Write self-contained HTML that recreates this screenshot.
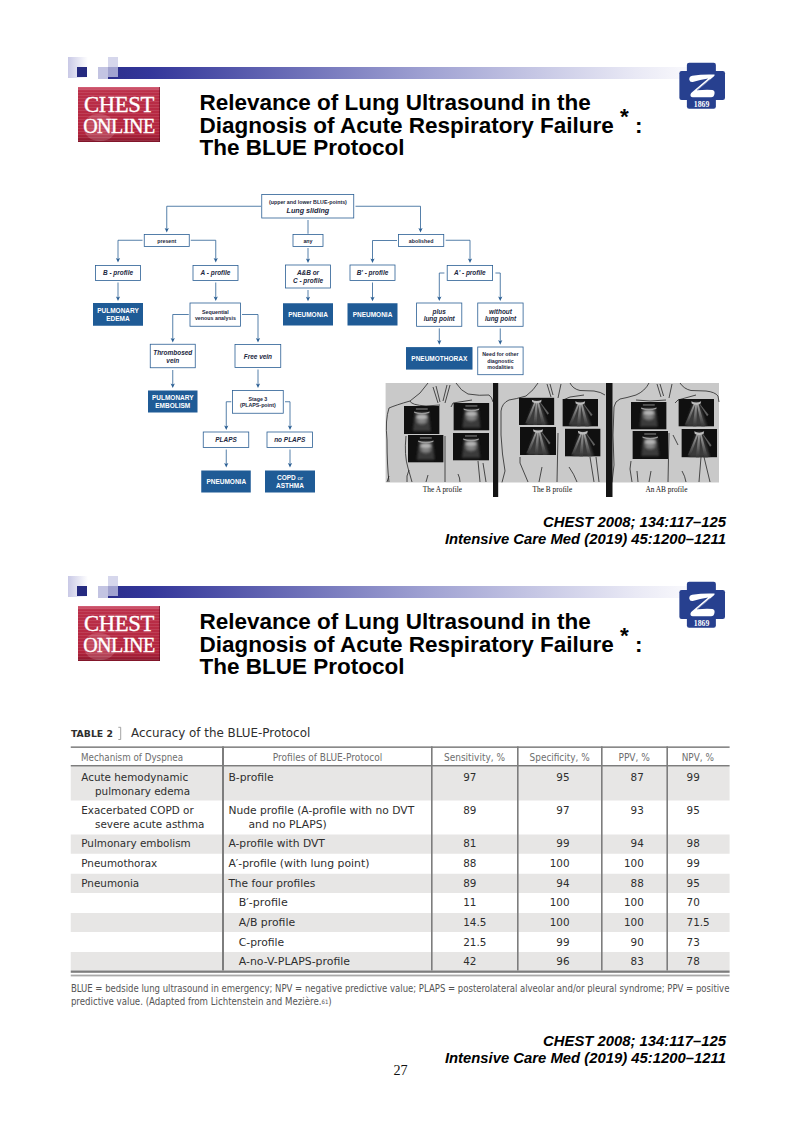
<!DOCTYPE html>
<html><head><meta charset="utf-8"><title>BLUE Protocol</title>
<style>
html,body{margin:0;padding:0;background:#fff;}
body{width:800px;height:1131px;position:relative;overflow:hidden;font-family:"Liberation Sans",sans-serif;color:#000;}
.slide{position:absolute;left:0;width:800px;height:519px;}
#s1{top:0}
#s2{top:519px}
.abs{position:absolute}
.title{position:absolute;left:199.5px;top:92px;font:bold 22.5px/22.5px "Liberation Sans",sans-serif;white-space:nowrap;color:#000;letter-spacing:0}
.title sup{font-size:22.5px;vertical-align:0;position:relative;top:-8.2px;line-height:0}
.cite{position:absolute;right:74px;top:514px;text-align:right;font:italic bold 14.85px/17.25px "Liberation Sans",sans-serif;white-space:nowrap}
/* deco */
.d{position:absolute}
.chest{position:absolute;left:78px;top:87px;width:82px;height:55px;background:linear-gradient(180deg,#d4637a 0,#bb2f49 4px,#b3243d 46px,#9a1c33 52px,#7d1428 55px);overflow:hidden}
.chest:before{content:"";position:absolute;left:0;top:0;right:0;bottom:0;background:repeating-linear-gradient(180deg,rgba(255,255,255,0) 0,rgba(255,255,255,0) 2.2px,rgba(255,255,255,.10) 2.2px,rgba(255,255,255,.10) 3px)}
.chest:after{content:"";position:absolute;right:0;top:0;width:1.5px;bottom:0;background:rgba(90,10,30,.55)}
.chest i{position:absolute;left:6px;top:27px;width:32px;height:27px;border-radius:45% 55% 50% 50%;background:rgba(255,255,255,.16)}
.chest span{position:absolute;left:0;width:82px;text-align:center;color:#fff;font-family:"Liberation Serif",serif;white-space:nowrap;-webkit-text-stroke:0.35px #fff}
.pg{position:absolute;left:0.5px;width:800px;top:1060px;text-align:center;font:14.2px/20px "Liberation Serif",serif;color:#111}
</style></head><body>

<div class="slide" id="s1">
  <div class="d" style="left:68px;top:57px;width:20px;height:21px;background:linear-gradient(90deg,#c9c9e6,#fff)"></div>
  <div class="d" style="left:107.5px;top:67px;width:600px;height:11.5px;background:linear-gradient(90deg,#2c2f8c 0%,#33369a 7%,#9fa1d2 53%,#e9e9f5 88%,#fff 100%)"></div>
  <div class="d" style="left:77px;top:67px;width:10px;height:9.5px;background:#252a80"></div>
  <div class="d" style="left:97.5px;top:67px;width:10px;height:11.5px;background:#c3c4e2"></div>
  <div class="d" style="left:108px;top:57px;width:9.5px;height:20px;background:rgba(200,201,230,.75)"></div>
  <div class="chest"><i></i><span style="top:5.6px;font-size:22.6px;line-height:24px;letter-spacing:-0.3px">CHEST</span><span style="top:26.6px;font-size:20px;line-height:24px;letter-spacing:-0.45px">ONLINE</span></div>
  <svg class="abs" style="left:660px;top:50px" width="100" height="70" viewBox="0 0 800 560"><rect x="215" y="102" width="232" height="368" rx="18" fill="#27408f"/><rect x="155" y="168" width="365" height="232" rx="18" fill="#27408f"/><path d="M234,236 Q232,212 258,206 Q340,192 436,196 Q440,200 432,210 L300,322 Q370,316 420,320 Q440,324 436,350 Q432,380 405,378 L262,378 Q240,376 244,356 Q246,346 256,338 L385,228 Q320,238 262,256 Q238,260 234,236 Z" fill="#fff"/><path d="M398,236 L296,322" stroke="#27408f" stroke-width="4.5"/><text x="332" y="454" text-anchor="middle" font-family="Liberation Serif,serif" font-weight="bold" font-size="62" fill="#fff">1869</text></svg>
  <div class="title">Relevance of Lung Ultrasound in the<br>Diagnosis of Acute Respiratory Failure <sup>*</sup> :<br>The BLUE Protocol</div>
  <div class="cite">CHEST 2008; 134:117–125<br>Intensive Care Med (2019) 45:1200–1211</div>
  <!--FLOW--><svg class="abs" id="flow" style="left:0;top:0" width="800" height="519" viewBox="0 0 800 519" font-family="Liberation Sans,sans-serif" font-weight="bold" text-anchor="middle">
<defs>
<linearGradient id="gr" x1="0" y1="0" x2="0" y2="1"><stop offset="0" stop-color="#a8a8a8"/><stop offset="0.5" stop-color="#6e6e6e"/><stop offset="1" stop-color="#343434"/></linearGradient>
<filter id="bl" x="-30%" y="-30%" width="160%" height="160%"><feGaussianBlur stdDeviation="1.1"/></filter>
<filter id="bl2" x="-30%" y="-30%" width="160%" height="160%"><feGaussianBlur stdDeviation="0.6"/></filter>
</defs>
<rect x="385.6" y="383" width="333.4" height="99.5" fill="#c9c9c9"/>
<path d="M428,383 Q421,394 410,401 Q396,405 389,408 Q385,420 387,440 Q387,465 389,482" transform="translate(0,0)" fill="none" stroke="#262626" stroke-width="0.8"/>
<path d="M456,383 Q461,391 468,394 Q480,396 489,395 Q492,397 493,402" transform="translate(0,0)" fill="none" stroke="#262626" stroke-width="0.8"/>
<path d="M433,387 L438,403 M436,386 L440,402" transform="translate(0,0)" fill="none" stroke="#262626" stroke-width="0.8"/>
<path d="M450,385 L445,403 M447,385 L443,401" transform="translate(0,0)" fill="none" stroke="#262626" stroke-width="0.8"/>
<path d="M406,436 Q404,455 408,468 L412,482" transform="translate(0,0)" fill="none" stroke="#262626" stroke-width="0.8"/>
<path d="M409,470 Q406,476 407,482" transform="translate(0,0)" fill="none" stroke="#262626" stroke-width="0.8"/>
<path d="M445,436 L445,482" transform="translate(0,0)" fill="none" stroke="#262626" stroke-width="0.8"/>
<path d="M428,475 L426,482" transform="translate(0,0)" fill="none" stroke="#262626" stroke-width="0.8"/>
<path d="M458,474 Q460,478 460,482" transform="translate(0,0)" fill="none" stroke="#262626" stroke-width="0.8"/>
<path d="M478,461 L480,482" transform="translate(0,0)" fill="none" stroke="#262626" stroke-width="0.8"/>
<path d="M483,463 L486,482" transform="translate(0,0)" fill="none" stroke="#262626" stroke-width="0.8"/>
<path d="M389,476 L387,482" transform="translate(0,0)" fill="none" stroke="#262626" stroke-width="0.8"/>
<path d="M410,401 Q411,405 426,406 L440,405" transform="translate(0,0)" fill="none" stroke="#262626" stroke-width="0.8"/>
<path d="M451,407 L453,403 L472,400" transform="translate(0,0)" fill="none" stroke="#262626" stroke-width="0.8"/>
<path d="M538,383 Q534,390 526,396 Q516,399 509,400 Q502,403 501,411 L501,435 Q502,455 505,471 L502,482.4" fill="none" stroke="#262626" stroke-width="0.8"/>
<path d="M547,384 L551,397 M550,384 L553,395 M561,384 L558,398" fill="none" stroke="#262626" stroke-width="0.8"/>
<path d="M570,383 Q573,389 580,390.5 L594,391 Q601,392 605,395" fill="none" stroke="#262626" stroke-width="0.8"/>
<path d="M563,400 L570,397 L584,395" fill="none" stroke="#262626" stroke-width="0.8"/>
<path d="M520,457 L520,463 L528,482" fill="none" stroke="#262626" stroke-width="0.8"/>
<path d="M558,433 L557,482" fill="none" stroke="#262626" stroke-width="0.8"/>
<path d="M542,467 L539,482" fill="none" stroke="#262626" stroke-width="0.8"/>
<path d="M569,467 Q574,474 577,482" fill="none" stroke="#262626" stroke-width="0.8"/>
<path d="M590,457 L594,482 M596,457 L599,482" fill="none" stroke="#262626" stroke-width="0.8"/>
<path d="M649,383 Q645,391 636,395 Q626,398 620,399 Q615,401 614,407 L613,435 L614,465 L612,482.4" fill="none" stroke="#262626" stroke-width="0.8"/>
<path d="M657,384 L661,397 M660,384 L663.6,396 M672,384 L669,398" fill="none" stroke="#262626" stroke-width="0.8"/>
<path d="M680,383 Q684,389 691,390.5 L706,391 Q715,392 718,396 L719,402" fill="none" stroke="#262626" stroke-width="0.8"/>
<path d="M636,400 L650,401 L666,400" fill="none" stroke="#262626" stroke-width="0.8"/>
<path d="M675,403 L678,400 L696,395" fill="none" stroke="#262626" stroke-width="0.8"/>
<path d="M631,461 L630,469 L632,482 M637,471 L638,482" fill="none" stroke="#262626" stroke-width="0.8"/>
<path d="M669,433 L668,482" fill="none" stroke="#262626" stroke-width="0.8"/>
<path d="M651,471 L649,482" fill="none" stroke="#262626" stroke-width="0.8"/>
<path d="M682,471 Q685,476 686,482" fill="none" stroke="#262626" stroke-width="0.8"/>
<path d="M701,457 L699,482 M704,457 L710,482" fill="none" stroke="#262626" stroke-width="0.8"/>
<path d="M673,435 L678,445" fill="none" stroke="#262626" stroke-width="0.8"/>
<rect x="493" y="383" width="5.2" height="114" fill="#141414"/>
<rect x="606" y="383" width="6.5" height="114" fill="#141414"/>
<svg x="404" y="406" width="35.6" height="28.0" viewBox="0 0 36 28" preserveAspectRatio="none"><rect width="36" height="28" fill="#101010"/>
 <g filter="url(#bl)">
 <path d="M11,6 L25,6 L27,25 L9,25 Z" fill="#3a3a3a"/>
 <ellipse cx="18" cy="13" rx="6.5" ry="6" fill="#606060"/>
 <ellipse cx="18" cy="11" rx="5.5" ry="2.4" fill="#b4b4b4"/>
 <ellipse cx="18" cy="15.5" rx="4.5" ry="1.4" fill="#8a8a8a"/>
 </g>
 <g filter="url(#bl2)">
 <path d="M10,5.6 Q18,8.2 26,5.6 L25.5,7 Q18,9.6 10.5,7 Z" fill="#9c9c9c"/>
 <rect x="12" y="2.4" width="12" height="1.2" fill="#777"/>
 </g></svg>
<svg x="408" y="435" width="35.6" height="27.6" viewBox="0 0 36 28" preserveAspectRatio="none"><rect width="36" height="28" fill="#101010"/>
 <g filter="url(#bl)">
 <path d="M11,6 L25,6 L27,25 L9,25 Z" fill="#3a3a3a"/>
 <ellipse cx="18" cy="13" rx="6.5" ry="6" fill="#606060"/>
 <ellipse cx="18" cy="11" rx="5.5" ry="2.4" fill="#b4b4b4"/>
 <ellipse cx="18" cy="15.5" rx="4.5" ry="1.4" fill="#8a8a8a"/>
 </g>
 <g filter="url(#bl2)">
 <path d="M10,5.6 Q18,8.2 26,5.6 L25.5,7 Q18,9.6 10.5,7 Z" fill="#9c9c9c"/>
 <rect x="12" y="2.4" width="12" height="1.2" fill="#777"/>
 </g></svg>
<svg x="453.4" y="403" width="36.0" height="27.6" viewBox="0 0 36 28" preserveAspectRatio="none"><rect width="36" height="28" fill="#101010"/>
 <g filter="url(#bl)">
 <path d="M11,6 L25,6 L27,25 L9,25 Z" fill="#3a3a3a"/>
 <ellipse cx="18" cy="13" rx="6.5" ry="6" fill="#606060"/>
 <ellipse cx="18" cy="11" rx="5.5" ry="2.4" fill="#b4b4b4"/>
 <ellipse cx="18" cy="15.5" rx="4.5" ry="1.4" fill="#8a8a8a"/>
 </g>
 <g filter="url(#bl2)">
 <path d="M10,5.6 Q18,8.2 26,5.6 L25.5,7 Q18,9.6 10.5,7 Z" fill="#9c9c9c"/>
 <rect x="12" y="2.4" width="12" height="1.2" fill="#777"/>
 </g></svg>
<svg x="453" y="433" width="36.0" height="27.6" viewBox="0 0 36 28" preserveAspectRatio="none"><rect width="36" height="28" fill="#101010"/>
 <g filter="url(#bl)">
 <path d="M11,6 L25,6 L27,25 L9,25 Z" fill="#3a3a3a"/>
 <ellipse cx="18" cy="13" rx="6.5" ry="6" fill="#606060"/>
 <ellipse cx="18" cy="11" rx="5.5" ry="2.4" fill="#b4b4b4"/>
 <ellipse cx="18" cy="15.5" rx="4.5" ry="1.4" fill="#8a8a8a"/>
 </g>
 <g filter="url(#bl2)">
 <path d="M10,5.6 Q18,8.2 26,5.6 L25.5,7 Q18,9.6 10.5,7 Z" fill="#9c9c9c"/>
 <rect x="12" y="2.4" width="12" height="1.2" fill="#777"/>
 </g></svg>
<svg x="519" y="397.6" width="35.4" height="27.4" viewBox="0 0 36 28" preserveAspectRatio="none"><rect width="36" height="28" fill="#101010"/>
 <g filter="url(#bl)">
 <path d="M15,3 L21,3 L29,28 L7,28 Z" fill="#3a3a3a"/>
 </g>
 <g filter="url(#bl2)">
 <path d="M16.0,4 L17.6,4 L9.5,26 L6.5,26 Z" fill="url(#gr)"/>
 <path d="M17.2,4 L18.8,4 L18.2,28 L14.6,28 Z" fill="url(#gr)"/>
 <path d="M18.4,4 L20,4 L26.8,28 L23.2,28 Z" fill="url(#gr)"/>
 <path d="M20.5,4 L21.5,4.5 L30.5,16 L29,17.5 Z" fill="#5e5e5e"/>
 <path d="M13,2.2 Q18,5 23,2.2 L22.5,4.6 Q18,7 13.5,4.6 Z" fill="#bdbdbd"/>
 </g></svg>
<svg x="520" y="427" width="36.0" height="28.0" viewBox="0 0 36 28" preserveAspectRatio="none"><rect width="36" height="28" fill="#101010"/>
 <g filter="url(#bl)">
 <path d="M15,3 L21,3 L29,28 L7,28 Z" fill="#3a3a3a"/>
 </g>
 <g filter="url(#bl2)">
 <path d="M16.0,4 L17.6,4 L9.5,26 L6.5,26 Z" fill="url(#gr)"/>
 <path d="M17.2,4 L18.8,4 L18.2,28 L14.6,28 Z" fill="url(#gr)"/>
 <path d="M18.4,4 L20,4 L26.8,28 L23.2,28 Z" fill="url(#gr)"/>
 <path d="M20.5,4 L21.5,4.5 L30.5,16 L29,17.5 Z" fill="#5e5e5e"/>
 <path d="M13,2.2 Q18,5 23,2.2 L22.5,4.6 Q18,7 13.5,4.6 Z" fill="#bdbdbd"/>
 </g></svg>
<svg x="562.4" y="399" width="35.6" height="27.6" viewBox="0 0 36 28" preserveAspectRatio="none"><rect width="36" height="28" fill="#101010"/>
 <g filter="url(#bl)">
 <path d="M15,3 L21,3 L29,28 L7,28 Z" fill="#3a3a3a"/>
 </g>
 <g filter="url(#bl2)">
 <path d="M16.0,4 L17.6,4 L9.5,26 L6.5,26 Z" fill="url(#gr)"/>
 <path d="M17.2,4 L18.8,4 L18.2,28 L14.6,28 Z" fill="url(#gr)"/>
 <path d="M18.4,4 L20,4 L26.8,28 L23.2,28 Z" fill="url(#gr)"/>
 <path d="M20.5,4 L21.5,4.5 L30.5,16 L29,17.5 Z" fill="#5e5e5e"/>
 <path d="M13,2.2 Q18,5 23,2.2 L22.5,4.6 Q18,7 13.5,4.6 Z" fill="#bdbdbd"/>
 </g></svg>
<svg x="565" y="428.6" width="35.6" height="28.0" viewBox="0 0 36 28" preserveAspectRatio="none"><rect width="36" height="28" fill="#101010"/>
 <g filter="url(#bl)">
 <path d="M15,3 L21,3 L29,28 L7,28 Z" fill="#3a3a3a"/>
 </g>
 <g filter="url(#bl2)">
 <path d="M16.0,4 L17.6,4 L9.5,26 L6.5,26 Z" fill="url(#gr)"/>
 <path d="M17.2,4 L18.8,4 L18.2,28 L14.6,28 Z" fill="url(#gr)"/>
 <path d="M18.4,4 L20,4 L26.8,28 L23.2,28 Z" fill="url(#gr)"/>
 <path d="M20.5,4 L21.5,4.5 L30.5,16 L29,17.5 Z" fill="#5e5e5e"/>
 <path d="M13,2.2 Q18,5 23,2.2 L22.5,4.6 Q18,7 13.5,4.6 Z" fill="#bdbdbd"/>
 </g></svg>
<svg x="631" y="402" width="35.6" height="27.6" viewBox="0 0 36 28" preserveAspectRatio="none"><rect width="36" height="28" fill="#101010"/>
 <g filter="url(#bl)">
 <path d="M11,6 L25,6 L27,25 L9,25 Z" fill="#3a3a3a"/>
 <ellipse cx="18" cy="13" rx="6.5" ry="6" fill="#606060"/>
 <ellipse cx="18" cy="11" rx="5.5" ry="2.4" fill="#b4b4b4"/>
 <ellipse cx="18" cy="15.5" rx="4.5" ry="1.4" fill="#8a8a8a"/>
 </g>
 <g filter="url(#bl2)">
 <path d="M10,5.6 Q18,8.2 26,5.6 L25.5,7 Q18,9.6 10.5,7 Z" fill="#9c9c9c"/>
 <rect x="12" y="2.4" width="12" height="1.2" fill="#777"/>
 </g></svg>
<svg x="632.4" y="431" width="35.6" height="28.0" viewBox="0 0 36 28" preserveAspectRatio="none"><rect width="36" height="28" fill="#101010"/>
 <g filter="url(#bl)">
 <path d="M11,6 L25,6 L27,25 L9,25 Z" fill="#3a3a3a"/>
 <ellipse cx="18" cy="13" rx="6.5" ry="6" fill="#606060"/>
 <ellipse cx="18" cy="11" rx="5.5" ry="2.4" fill="#b4b4b4"/>
 <ellipse cx="18" cy="15.5" rx="4.5" ry="1.4" fill="#8a8a8a"/>
 </g>
 <g filter="url(#bl2)">
 <path d="M10,5.6 Q18,8.2 26,5.6 L25.5,7 Q18,9.6 10.5,7 Z" fill="#9c9c9c"/>
 <rect x="12" y="2.4" width="12" height="1.2" fill="#777"/>
 </g></svg>
<svg x="678.4" y="399" width="35.6" height="27.6" viewBox="0 0 36 28" preserveAspectRatio="none"><rect width="36" height="28" fill="#101010"/>
 <g filter="url(#bl)">
 <path d="M15,3 L21,3 L29,28 L7,28 Z" fill="#3a3a3a"/>
 </g>
 <g filter="url(#bl2)">
 <path d="M16.0,4 L17.6,4 L9.5,26 L6.5,26 Z" fill="url(#gr)"/>
 <path d="M17.2,4 L18.8,4 L18.2,28 L14.6,28 Z" fill="url(#gr)"/>
 <path d="M18.4,4 L20,4 L26.8,28 L23.2,28 Z" fill="url(#gr)"/>
 <path d="M20.5,4 L21.5,4.5 L30.5,16 L29,17.5 Z" fill="#5e5e5e"/>
 <path d="M13,2.2 Q18,5 23,2.2 L22.5,4.6 Q18,7 13.5,4.6 Z" fill="#bdbdbd"/>
 </g></svg>
<svg x="681.4" y="429" width="35.6" height="28.4" viewBox="0 0 36 28" preserveAspectRatio="none"><rect width="36" height="28" fill="#101010"/>
 <g filter="url(#bl)">
 <path d="M15,3 L21,3 L29,28 L7,28 Z" fill="#3a3a3a"/>
 </g>
 <g filter="url(#bl2)">
 <path d="M16.0,4 L17.6,4 L9.5,26 L6.5,26 Z" fill="url(#gr)"/>
 <path d="M17.2,4 L18.8,4 L18.2,28 L14.6,28 Z" fill="url(#gr)"/>
 <path d="M18.4,4 L20,4 L26.8,28 L23.2,28 Z" fill="url(#gr)"/>
 <path d="M20.5,4 L21.5,4.5 L30.5,16 L29,17.5 Z" fill="#5e5e5e"/>
 <path d="M13,2.2 Q18,5 23,2.2 L22.5,4.6 Q18,7 13.5,4.6 Z" fill="#bdbdbd"/>
 </g></svg>
<text x="442.4" y="492.3" font-family="Liberation Serif,serif" font-weight="normal" font-size="7.35" fill="#111">The A profile</text>
<text x="552.4" y="492.3" font-family="Liberation Serif,serif" font-weight="normal" font-size="7.35" fill="#111">The B profile</text>
<text x="666.4" y="492.3" font-family="Liberation Serif,serif" font-weight="normal" font-size="7.35" fill="#111">An AB profile</text>
<path d="M261,206.25 L166.75,206.25 L166.75,230.0" fill="none" stroke="#2b5f94" stroke-width="0.8"/>
<path d="M166.75,232.5 L164.65,227.9 L166.75,229.0 L168.85,227.9 Z" fill="#2b5f94"/>
<path d="M355.5,206.25 L420.5,206.25 L420.5,230.0" fill="none" stroke="#2b5f94" stroke-width="0.8"/>
<path d="M420.5,232.5 L418.4,227.9 L420.5,229.0 L422.6,227.9 Z" fill="#2b5f94"/>
<path d="M308,248 L308,260.5" fill="none" stroke="#2b5f94" stroke-width="0.8"/>
<path d="M308,263 L305.9,258.4 L308,259.5 L310.1,258.4 Z" fill="#2b5f94"/>
<path d="M308,290 L308,298.75" fill="none" stroke="#2b5f94" stroke-width="0.8"/>
<path d="M308,301.25 L305.9,296.65 L308,297.75 L310.1,296.65 Z" fill="#2b5f94"/>
<path d="M142.5,240.25 L118,240.25 L118,260.0" fill="none" stroke="#2b5f94" stroke-width="0.8"/>
<path d="M118,262.5 L115.9,257.9 L118,259.0 L120.1,257.9 Z" fill="#2b5f94"/>
<path d="M190.75,240.25 L215.75,240.25 L215.75,260.0" fill="none" stroke="#2b5f94" stroke-width="0.8"/>
<path d="M215.75,262.5 L213.65,257.9 L215.75,259.0 L217.85,257.9 Z" fill="#2b5f94"/>
<path d="M118,282.5 L118,298.5" fill="none" stroke="#2b5f94" stroke-width="0.8"/>
<path d="M118,301 L115.9,296.4 L118,297.5 L120.1,296.4 Z" fill="#2b5f94"/>
<path d="M215.75,282.5 L215.75,298.5" fill="none" stroke="#2b5f94" stroke-width="0.8"/>
<path d="M215.75,301 L213.65,296.4 L215.75,297.5 L217.85,296.4 Z" fill="#2b5f94"/>
<path d="M397,240.5 L372.5,240.5 L372.5,260.5" fill="none" stroke="#2b5f94" stroke-width="0.8"/>
<path d="M372.5,263 L370.4,258.4 L372.5,259.5 L374.6,258.4 Z" fill="#2b5f94"/>
<path d="M445.7,240.25 L470,240.25 L470,260.5" fill="none" stroke="#2b5f94" stroke-width="0.8"/>
<path d="M470,263 L467.9,258.4 L470,259.5 L472.1,258.4 Z" fill="#2b5f94"/>
<path d="M372.5,282.5 L372.5,298.75" fill="none" stroke="#2b5f94" stroke-width="0.8"/>
<path d="M372.5,301.25 L370.4,296.65 L372.5,297.75 L374.6,296.65 Z" fill="#2b5f94"/>
<path d="M444.4,273 L439.3,273 L439.3,298.5" fill="none" stroke="#2b5f94" stroke-width="0.8"/>
<path d="M439.3,301 L437.2,296.4 L439.3,297.5 L441.40000000000003,296.4 Z" fill="#2b5f94"/>
<path d="M495.4,273 L500.25,273 L500.25,298.5" fill="none" stroke="#2b5f94" stroke-width="0.8"/>
<path d="M500.25,301 L498.15,296.4 L500.25,297.5 L502.35,296.4 Z" fill="#2b5f94"/>
<path d="M439.3,328.4 L439.3,342.2" fill="none" stroke="#2b5f94" stroke-width="0.8"/>
<path d="M439.3,344.7 L437.2,340.09999999999997 L439.3,341.2 L441.40000000000003,340.09999999999997 Z" fill="#2b5f94"/>
<path d="M500.25,328.4 L500.25,342.2" fill="none" stroke="#2b5f94" stroke-width="0.8"/>
<path d="M500.25,344.7 L498.15,340.09999999999997 L500.25,341.2 L502.35,340.09999999999997 Z" fill="#2b5f94"/>
<path d="M188.75,314.5 L172.75,314.5 L172.75,340.0" fill="none" stroke="#2b5f94" stroke-width="0.8"/>
<path d="M172.75,342.5 L170.65,337.9 L172.75,339.0 L174.85,337.9 Z" fill="#2b5f94"/>
<path d="M242,314.5 L258,314.5 L258,340.0" fill="none" stroke="#2b5f94" stroke-width="0.8"/>
<path d="M258,342.5 L255.9,337.9 L258,339.0 L260.1,337.9 Z" fill="#2b5f94"/>
<path d="M172.75,370 L172.75,385.5" fill="none" stroke="#2b5f94" stroke-width="0.8"/>
<path d="M172.75,388 L170.65,383.4 L172.75,384.5 L174.85,383.4 Z" fill="#2b5f94"/>
<path d="M258,369.5 L258,385.5" fill="none" stroke="#2b5f94" stroke-width="0.8"/>
<path d="M258,388 L255.9,383.4 L258,384.5 L260.1,383.4 Z" fill="#2b5f94"/>
<path d="M231.25,401.75 L226.25,401.75 L226.25,427.5" fill="none" stroke="#2b5f94" stroke-width="0.8"/>
<path d="M226.25,430 L224.15,425.4 L226.25,426.5 L228.35,425.4 Z" fill="#2b5f94"/>
<path d="M285,401.75 L290,401.75 L290,427.5" fill="none" stroke="#2b5f94" stroke-width="0.8"/>
<path d="M290,430 L287.9,425.4 L290,426.5 L292.1,425.4 Z" fill="#2b5f94"/>
<path d="M226.25,449.5 L226.25,465.0" fill="none" stroke="#2b5f94" stroke-width="0.8"/>
<path d="M226.25,467.5 L224.15,462.9 L226.25,464.0 L228.35,462.9 Z" fill="#2b5f94"/>
<path d="M290,449.5 L290,465.0" fill="none" stroke="#2b5f94" stroke-width="0.8"/>
<path d="M290,467.5 L287.9,462.9 L290,464.0 L292.1,462.9 Z" fill="#2b5f94"/>
<path d="M308,220 L308,233.75" fill="none" stroke="#2b5f94" stroke-width="0.8"/>
<rect x="261.75" y="194.5" width="92.00" height="23.50" fill="#fff" stroke="#2b5f94" stroke-width="0.8"/>
<rect x="144.25" y="234.5" width="45.00" height="12.00" fill="#fff" stroke="#2b5f94" stroke-width="0.8"/>
<rect x="293" y="234.5" width="30.00" height="12.00" fill="#fff" stroke="#2b5f94" stroke-width="0.8"/>
<rect x="398.5" y="234.5" width="45.25" height="12.00" fill="#fff" stroke="#2b5f94" stroke-width="0.8"/>
<rect x="95.5" y="265.5" width="45.00" height="15.00" fill="#fff" stroke="#2b5f94" stroke-width="0.8"/>
<rect x="193" y="265.5" width="45.00" height="15.00" fill="#fff" stroke="#2b5f94" stroke-width="0.8"/>
<rect x="285.5" y="265" width="45.00" height="23.00" fill="#fff" stroke="#2b5f94" stroke-width="0.8"/>
<rect x="350" y="265" width="45.00" height="15.50" fill="#fff" stroke="#2b5f94" stroke-width="0.8"/>
<rect x="447.2" y="265.4" width="45.40" height="15.00" fill="#fff" stroke="#2b5f94" stroke-width="0.8"/>
<rect x="190" y="303" width="50.50" height="23.25" fill="#fff" stroke="#2b5f94" stroke-width="0.8"/>
<rect x="416.6" y="303" width="45.20" height="23.30" fill="#fff" stroke="#2b5f94" stroke-width="0.8"/>
<rect x="477.75" y="303" width="45.35" height="23.30" fill="#fff" stroke="#2b5f94" stroke-width="0.8"/>
<rect x="150.25" y="344.25" width="45.00" height="23.50" fill="#fff" stroke="#2b5f94" stroke-width="0.8"/>
<rect x="235" y="344.5" width="45.75" height="23.00" fill="#fff" stroke="#2b5f94" stroke-width="0.8"/>
<rect x="477.75" y="347" width="45.35" height="27.70" fill="#fff" stroke="#2b5f94" stroke-width="0.8"/>
<rect x="232.5" y="390.5" width="50.75" height="22.75" fill="#fff" stroke="#2b5f94" stroke-width="0.8"/>
<rect x="203.25" y="432" width="45.50" height="15.50" fill="#fff" stroke="#2b5f94" stroke-width="0.8"/>
<rect x="267" y="432" width="45.50" height="15.50" fill="#fff" stroke="#2b5f94" stroke-width="0.8"/>
<rect x="93" y="303" width="50.00" height="22.75" fill="#1f5b96"/>
<rect x="283" y="303.25" width="50.00" height="22.25" fill="#1f5b96"/>
<rect x="347.5" y="303.25" width="50.00" height="22.25" fill="#1f5b96"/>
<rect x="406" y="347.1" width="66.50" height="22.50" fill="#1f5b96"/>
<rect x="148" y="390.5" width="49.50" height="22.00" fill="#1f5b96"/>
<rect x="201.25" y="470.5" width="49.50" height="22.00" fill="#1f5b96"/>
<rect x="265" y="470.5" width="50.00" height="22.00" fill="#1f5b96"/>
<text x="307.9" y="203.66" font-size="5.3" fill="#1b2740">(upper and lower BLUE-points)</text>
<text x="307.9" y="213.34" font-size="7.2" font-style="italic" fill="#1b2740">Lung sliding</text>
<text x="166.75" y="242.51" font-size="5.3" fill="#1b2740">present</text>
<text x="308" y="242.81" font-size="5.3" fill="#1b2740">any</text>
<text x="421.1" y="242.51" font-size="5.3" fill="#1b2740">abolished</text>
<text x="118" y="275.32" font-size="6.45" font-style="italic" fill="#1b2740">B - profile</text>
<text x="215.5" y="275.32" font-size="6.45" font-style="italic" fill="#1b2740">A - profile</text>
<text x="308" y="275.32" font-size="6.45" font-style="italic" fill="#1b2740">A&amp;B or</text>
<text x="308" y="282.82" font-size="6.45" font-style="italic" fill="#1b2740">C - profile</text>
<text x="372.5" y="275.32" font-size="6.45" font-style="italic" fill="#1b2740">B' - profile</text>
<text x="469.8" y="275.32" font-size="6.45" font-style="italic" fill="#1b2740">A' - profile</text>
<text x="118" y="312.84" font-size="6.5" fill="#fff">PULMONARY</text>
<text x="118" y="321.09" font-size="6.5" fill="#fff">EDEMA</text>
<text x="215.4" y="313.66" font-size="5.3" fill="#1b2740">Sequential</text>
<text x="215.4" y="319.91" font-size="5.3" fill="#1b2740">venous analysis</text>
<text x="308" y="316.84" font-size="6.5" fill="#fff">PNEUMONIA</text>
<text x="372.5" y="316.84" font-size="6.5" fill="#fff">PNEUMONIA</text>
<text x="439.2" y="313.62" font-size="6.45" font-style="italic" fill="#1b2740">plus</text>
<text x="439.2" y="320.72" font-size="6.45" font-style="italic" fill="#1b2740">lung point</text>
<text x="500.5" y="313.62" font-size="6.45" font-style="italic" fill="#1b2740">without</text>
<text x="500.5" y="320.72" font-size="6.45" font-style="italic" fill="#1b2740">lung point</text>
<text x="172.75" y="354.82" font-size="6.45" font-style="italic" fill="#1b2740">Thrombosed</text>
<text x="172.75" y="362.82" font-size="6.45" font-style="italic" fill="#1b2740">vein</text>
<text x="257.9" y="358.57" font-size="6.45" font-style="italic" fill="#1b2740">Free vein</text>
<text x="439.3" y="360.74" font-size="6.5" fill="#fff">PNEUMOTHORAX</text>
<text x="500.4" y="356.31" font-size="5.3" fill="#1b2740">Need for other</text>
<text x="500.4" y="362.91" font-size="5.3" fill="#1b2740">diagnostic</text>
<text x="500.4" y="369.31" font-size="5.3" fill="#1b2740">modalities</text>
<text x="172.75" y="399.84" font-size="6.5" fill="#fff">PULMONARY</text>
<text x="172.75" y="407.84" font-size="6.5" fill="#fff">EMBOLISM</text>
<text x="257.9" y="400.66" font-size="5.3" fill="#1b2740">Stage 3</text>
<text x="257.9" y="406.91" font-size="5.3" fill="#1b2740">(PLAPS-point)</text>
<text x="226" y="441.82" font-size="6.45" font-style="italic" fill="#1b2740">PLAPS</text>
<text x="289.75" y="441.82" font-size="6.45" font-style="italic" fill="#1b2740">no PLAPS</text>
<text x="226.25" y="483.59" font-size="6.5" fill="#fff">PNEUMONIA</text>
<text x="290" y="480.34" font-size="6.5" fill="#fff">COPD <tspan font-size="6.2" font-weight="normal">or</tspan></text>
<text x="290" y="487.84" font-size="6.5" fill="#fff">ASTHMA</text>
</svg><!--/FLOW-->
</div>

<div class="slide" id="s2">
  <div class="d" style="left:68px;top:57px;width:20px;height:21px;background:linear-gradient(90deg,#c9c9e6,#fff)"></div>
  <div class="d" style="left:107.5px;top:67px;width:600px;height:11.5px;background:linear-gradient(90deg,#2c2f8c 0%,#33369a 7%,#9fa1d2 53%,#e9e9f5 88%,#fff 100%)"></div>
  <div class="d" style="left:77px;top:67px;width:10px;height:9.5px;background:#252a80"></div>
  <div class="d" style="left:97.5px;top:67px;width:10px;height:11.5px;background:#c3c4e2"></div>
  <div class="d" style="left:108px;top:57px;width:9.5px;height:20px;background:rgba(200,201,230,.75)"></div>
  <div class="chest"><i></i><span style="top:5.6px;font-size:22.6px;line-height:24px;letter-spacing:-0.3px">CHEST</span><span style="top:26.6px;font-size:20px;line-height:24px;letter-spacing:-0.45px">ONLINE</span></div>
  <svg class="abs" style="left:660px;top:50px" width="100" height="70" viewBox="0 0 800 560"><rect x="215" y="102" width="232" height="368" rx="18" fill="#27408f"/><rect x="155" y="168" width="365" height="232" rx="18" fill="#27408f"/><path d="M234,236 Q232,212 258,206 Q340,192 436,196 Q440,200 432,210 L300,322 Q370,316 420,320 Q440,324 436,350 Q432,380 405,378 L262,378 Q240,376 244,356 Q246,346 256,338 L385,228 Q320,238 262,256 Q238,260 234,236 Z" fill="#fff"/><path d="M398,236 L296,322" stroke="#27408f" stroke-width="4.5"/><text x="332" y="454" text-anchor="middle" font-family="Liberation Serif,serif" font-weight="bold" font-size="62" fill="#fff">1869</text></svg>
  <div class="title">Relevance of Lung Ultrasound in the<br>Diagnosis of Acute Respiratory Failure <sup>*</sup> :<br>The BLUE Protocol</div>
  <div class="cite">CHEST 2008; 134:117–125<br>Intensive Care Med (2019) 45:1200–1211</div>
  <!--TAB--><svg class="abs" id="tab" style="left:0;top:0" width="800" height="519" viewBox="0 0 800 519">
<rect x="70.75" y="247.4" width="658.85" height="34.10" fill="#e7e6e5"/>
<rect x="70.75" y="315.5" width="658.85" height="19.25" fill="#e7e6e5"/>
<rect x="70.75" y="354.75" width="658.85" height="19.25" fill="#e7e6e5"/>
<rect x="70.75" y="394" width="658.85" height="19.00" fill="#e7e6e5"/>
<rect x="70.75" y="433" width="658.85" height="18.50" fill="#e7e6e5"/>
<rect x="70.75" y="227.4" width="658.85" height="1.5" fill="#7d7d7d"/>
<rect x="70.75" y="246" width="658.85" height="1.5" fill="#7d7d7d"/>
<rect x="70.75" y="451.5" width="658.85" height="2.3" fill="#7d7d7d"/>
<rect x="70.75" y="455.6" width="658.85" height="1.8" fill="#a9a9a9"/>
<rect x="222" y="227.4" width="2" height="224.10" fill="#7d7d7d"/>
<rect x="431" y="227.4" width="1.6" height="224.10" fill="#7d7d7d"/>
<rect x="517" y="227.4" width="1.6" height="224.10" fill="#7d7d7d"/>
<rect x="601" y="227.4" width="1.6" height="224.10" fill="#7d7d7d"/>
<rect x="666.4" y="227.4" width="1.6" height="224.10" fill="#7d7d7d"/>
<text x="71.0" y="218" font-family="DejaVu Sans,sans-serif" font-size="9.3" fill="#2e2e2e" text-anchor="start" font-weight="bold">TABLE 2</text>
<path d="M118.3,208.3 h2.4 v12.2 h-2.4" fill="none" stroke="#9a9a9a" stroke-width="0.9"/>
<text x="131.0" y="218" font-family="DejaVu Sans,sans-serif" font-size="11.9" fill="#2e2e2e" text-anchor="start">Accuracy of the BLUE-Protocol</text>
<text x="81.0" y="241.6" font-family="DejaVu Sans Condensed,sans-serif" font-size="10.3" fill="#6e6e6e" text-anchor="start" textLength="102" lengthAdjust="spacingAndGlyphs">Mechanism of Dyspnea</text>
<text x="327.5" y="241.6" font-family="DejaVu Sans Condensed,sans-serif" font-size="10.3" fill="#6e6e6e" text-anchor="middle" textLength="109.5" lengthAdjust="spacingAndGlyphs">Profiles of BLUE-Protocol</text>
<text x="474.5" y="241.6" font-family="DejaVu Sans Condensed,sans-serif" font-size="10.3" fill="#6e6e6e" text-anchor="middle" textLength="61" lengthAdjust="spacingAndGlyphs">Sensitivity, %</text>
<text x="559.6" y="241.6" font-family="DejaVu Sans Condensed,sans-serif" font-size="10.3" fill="#6e6e6e" text-anchor="middle" textLength="60" lengthAdjust="spacingAndGlyphs">Specificity, %</text>
<text x="634.2" y="241.6" font-family="DejaVu Sans Condensed,sans-serif" font-size="10.3" fill="#6e6e6e" text-anchor="middle" textLength="31.5" lengthAdjust="spacingAndGlyphs">PPV, %</text>
<text x="697.8" y="241.6" font-family="DejaVu Sans Condensed,sans-serif" font-size="10.3" fill="#6e6e6e" text-anchor="middle" textLength="32.3" lengthAdjust="spacingAndGlyphs">NPV, %</text>
<text x="81.25" y="261.5" font-family="DejaVu Sans,sans-serif" font-size="10.4" fill="#2e2e2e" text-anchor="start">Acute hemodynamic</text>
<text x="95" y="275.5" font-family="DejaVu Sans,sans-serif" font-size="10.4" fill="#2e2e2e" text-anchor="start">pulmonary edema</text>
<text x="81.25" y="294.75" font-family="DejaVu Sans,sans-serif" font-size="10.4" fill="#2e2e2e" text-anchor="start">Exacerbated COPD or</text>
<text x="95" y="309" font-family="DejaVu Sans,sans-serif" font-size="10.4" fill="#2e2e2e" text-anchor="start">severe acute asthma</text>
<text x="81.25" y="328" font-family="DejaVu Sans,sans-serif" font-size="10.4" fill="#2e2e2e" text-anchor="start">Pulmonary embolism</text>
<text x="81.25" y="348" font-family="DejaVu Sans,sans-serif" font-size="10.4" fill="#2e2e2e" text-anchor="start">Pneumothorax</text>
<text x="81.25" y="368" font-family="DejaVu Sans,sans-serif" font-size="10.4" fill="#2e2e2e" text-anchor="start">Pneumonia</text>
<text x="228.4" y="261.5" font-family="DejaVu Sans,sans-serif" font-size="10.4" fill="#2e2e2e" text-anchor="start" textLength="45.3" lengthAdjust="spacingAndGlyphs">B-profile</text>
<text x="228.4" y="294.75" font-family="DejaVu Sans,sans-serif" font-size="10.4" fill="#2e2e2e" text-anchor="start" textLength="185.8" lengthAdjust="spacingAndGlyphs">Nude profile (A-profile with no DVT</text>
<text x="248.5" y="309" font-family="DejaVu Sans,sans-serif" font-size="10.4" fill="#2e2e2e" text-anchor="start" textLength="78.3" lengthAdjust="spacingAndGlyphs">and no PLAPS)</text>
<text x="228.4" y="328" font-family="DejaVu Sans,sans-serif" font-size="10.4" fill="#2e2e2e" text-anchor="start" textLength="96.5" lengthAdjust="spacingAndGlyphs">A-profile with DVT</text>
<text x="228.4" y="348" font-family="DejaVu Sans,sans-serif" font-size="10.4" fill="#2e2e2e" text-anchor="start" textLength="141.0" lengthAdjust="spacingAndGlyphs">A′-profile (with lung point)</text>
<text x="228.4" y="368" font-family="DejaVu Sans,sans-serif" font-size="10.4" fill="#2e2e2e" text-anchor="start" textLength="86.8" lengthAdjust="spacingAndGlyphs">The four profiles</text>
<text x="238.8" y="387.25" font-family="DejaVu Sans,sans-serif" font-size="10.4" fill="#2e2e2e" text-anchor="start" textLength="48.9" lengthAdjust="spacingAndGlyphs">B′-profile</text>
<text x="238.8" y="407.25" font-family="DejaVu Sans,sans-serif" font-size="10.4" fill="#2e2e2e" text-anchor="start" textLength="56.3" lengthAdjust="spacingAndGlyphs">A/B profile</text>
<text x="238.8" y="426.5" font-family="DejaVu Sans,sans-serif" font-size="10.4" fill="#2e2e2e" text-anchor="start" textLength="45.3" lengthAdjust="spacingAndGlyphs">C-profile</text>
<text x="238.8" y="446" font-family="DejaVu Sans,sans-serif" font-size="10.4" fill="#2e2e2e" text-anchor="start" textLength="111.3" lengthAdjust="spacingAndGlyphs">A-no-V-PLAPS-profile</text>
<text x="463.2" y="261.5" font-family="DejaVu Sans,sans-serif" font-size="10.4" fill="#2e2e2e" text-anchor="start">97</text>
<text x="569.6" y="261.5" font-family="DejaVu Sans,sans-serif" font-size="10.4" fill="#2e2e2e" text-anchor="end">95</text>
<text x="643.8" y="261.5" font-family="DejaVu Sans,sans-serif" font-size="10.4" fill="#2e2e2e" text-anchor="end">87</text>
<text x="686.6" y="261.5" font-family="DejaVu Sans,sans-serif" font-size="10.4" fill="#2e2e2e" text-anchor="start">99</text>
<text x="463.2" y="294.75" font-family="DejaVu Sans,sans-serif" font-size="10.4" fill="#2e2e2e" text-anchor="start">89</text>
<text x="569.6" y="294.75" font-family="DejaVu Sans,sans-serif" font-size="10.4" fill="#2e2e2e" text-anchor="end">97</text>
<text x="643.8" y="294.75" font-family="DejaVu Sans,sans-serif" font-size="10.4" fill="#2e2e2e" text-anchor="end">93</text>
<text x="686.6" y="294.75" font-family="DejaVu Sans,sans-serif" font-size="10.4" fill="#2e2e2e" text-anchor="start">95</text>
<text x="463.2" y="328" font-family="DejaVu Sans,sans-serif" font-size="10.4" fill="#2e2e2e" text-anchor="start">81</text>
<text x="569.6" y="328" font-family="DejaVu Sans,sans-serif" font-size="10.4" fill="#2e2e2e" text-anchor="end">99</text>
<text x="643.8" y="328" font-family="DejaVu Sans,sans-serif" font-size="10.4" fill="#2e2e2e" text-anchor="end">94</text>
<text x="686.6" y="328" font-family="DejaVu Sans,sans-serif" font-size="10.4" fill="#2e2e2e" text-anchor="start">98</text>
<text x="463.2" y="348" font-family="DejaVu Sans,sans-serif" font-size="10.4" fill="#2e2e2e" text-anchor="start">88</text>
<text x="569.6" y="348" font-family="DejaVu Sans,sans-serif" font-size="10.4" fill="#2e2e2e" text-anchor="end">100</text>
<text x="643.8" y="348" font-family="DejaVu Sans,sans-serif" font-size="10.4" fill="#2e2e2e" text-anchor="end">100</text>
<text x="686.6" y="348" font-family="DejaVu Sans,sans-serif" font-size="10.4" fill="#2e2e2e" text-anchor="start">99</text>
<text x="463.2" y="368" font-family="DejaVu Sans,sans-serif" font-size="10.4" fill="#2e2e2e" text-anchor="start">89</text>
<text x="569.6" y="368" font-family="DejaVu Sans,sans-serif" font-size="10.4" fill="#2e2e2e" text-anchor="end">94</text>
<text x="643.8" y="368" font-family="DejaVu Sans,sans-serif" font-size="10.4" fill="#2e2e2e" text-anchor="end">88</text>
<text x="686.6" y="368" font-family="DejaVu Sans,sans-serif" font-size="10.4" fill="#2e2e2e" text-anchor="start">95</text>
<text x="463.2" y="387.25" font-family="DejaVu Sans,sans-serif" font-size="10.4" fill="#2e2e2e" text-anchor="start">11</text>
<text x="569.6" y="387.25" font-family="DejaVu Sans,sans-serif" font-size="10.4" fill="#2e2e2e" text-anchor="end">100</text>
<text x="643.8" y="387.25" font-family="DejaVu Sans,sans-serif" font-size="10.4" fill="#2e2e2e" text-anchor="end">100</text>
<text x="686.6" y="387.25" font-family="DejaVu Sans,sans-serif" font-size="10.4" fill="#2e2e2e" text-anchor="start">70</text>
<text x="463.2" y="407.25" font-family="DejaVu Sans,sans-serif" font-size="10.4" fill="#2e2e2e" text-anchor="start">14.5</text>
<text x="569.6" y="407.25" font-family="DejaVu Sans,sans-serif" font-size="10.4" fill="#2e2e2e" text-anchor="end">100</text>
<text x="643.8" y="407.25" font-family="DejaVu Sans,sans-serif" font-size="10.4" fill="#2e2e2e" text-anchor="end">100</text>
<text x="686.6" y="407.25" font-family="DejaVu Sans,sans-serif" font-size="10.4" fill="#2e2e2e" text-anchor="start">71.5</text>
<text x="463.2" y="426.5" font-family="DejaVu Sans,sans-serif" font-size="10.4" fill="#2e2e2e" text-anchor="start">21.5</text>
<text x="569.6" y="426.5" font-family="DejaVu Sans,sans-serif" font-size="10.4" fill="#2e2e2e" text-anchor="end">99</text>
<text x="643.8" y="426.5" font-family="DejaVu Sans,sans-serif" font-size="10.4" fill="#2e2e2e" text-anchor="end">90</text>
<text x="686.6" y="426.5" font-family="DejaVu Sans,sans-serif" font-size="10.4" fill="#2e2e2e" text-anchor="start">73</text>
<text x="463.2" y="446" font-family="DejaVu Sans,sans-serif" font-size="10.4" fill="#2e2e2e" text-anchor="start">42</text>
<text x="569.6" y="446" font-family="DejaVu Sans,sans-serif" font-size="10.4" fill="#2e2e2e" text-anchor="end">96</text>
<text x="643.8" y="446" font-family="DejaVu Sans,sans-serif" font-size="10.4" fill="#2e2e2e" text-anchor="end">83</text>
<text x="686.6" y="446" font-family="DejaVu Sans,sans-serif" font-size="10.4" fill="#2e2e2e" text-anchor="start">78</text>
<text x="70.9" y="472.6" font-family="DejaVu Sans Condensed,sans-serif" font-size="9.6" fill="#555" text-anchor="start" textLength="658.5" lengthAdjust="spacingAndGlyphs">BLUE = bedside lung ultrasound in emergency; NPV = negative predictive value; PLAPS = posterolateral alveolar and/or pleural syndrome; PPV = positive</text>
<text x="70.9" y="486.2" font-family="DejaVu Sans Condensed,sans-serif" font-size="9.6" fill="#555" text-anchor="start">predictive value. (Adapted from Lichtenstein and Mezière.<tspan font-size="6" dy="-1.5">61</tspan><tspan dy="1.5">)</tspan></text>
</svg><!--/TAB-->
</div>

<div class="pg">27</div>
</body></html>
